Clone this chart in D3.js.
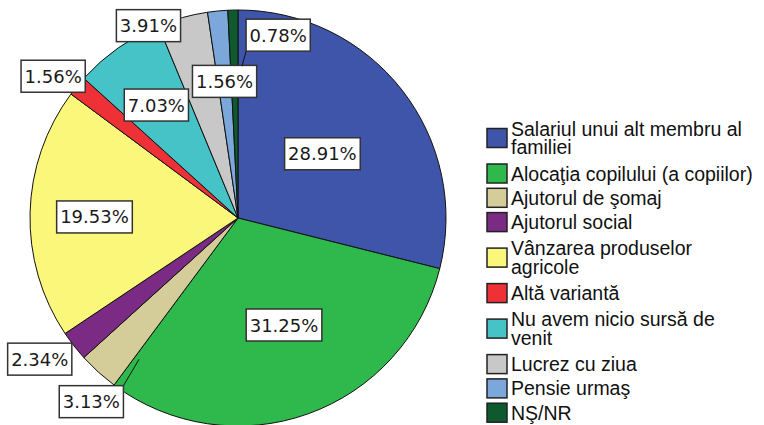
<!DOCTYPE html>
<html>
<head>
<meta charset="utf-8">
<script src="https://cdn.jsdelivr.net/npm/d3@7"></script>
<style>
  body { margin: 0; background: #fff; }
  svg { display: block; }
</style>
</head>
<body>
<svg id="chart" width="764" height="425"></svg>
<script>
// Surse de venit - pie chart

var categories = [
  "Salariul unui alt membru al familiei",
  "Alocaţia copilului (a copiilor)",
  "Ajutorul de şomaj",
  "Ajutorul social",
  "Vânzarea produselor agricole",
  "Altă variantă",
  "Nu avem nicio sursă de venit",
  "Lucrez cu ziua",
  "Pensie urmaş",
  "NŞ/NR"
];

// legend text broken the way the original wraps it
var legendLines = [
  ["Salariul unui alt membru al", "familiei"],
  ["Alocaţia copilului (a copiilor)"],
  ["Ajutorul de şomaj"],
  ["Ajutorul social"],
  ["Vânzarea produselor", "agricole"],
  ["Altă variantă"],
  ["Nu avem nicio sursă de", "venit"],
  ["Lucrez cu ziua"],
  ["Pensie urmaş"],
  ["NŞ/NR"]
];

var percents = [28.91, 31.25, 3.13, 2.34, 19.53, 1.56, 7.03, 3.91, 1.56, 0.78];

var colors = ["#3f55a9", "#2fb84b", "#d5cd99", "#7b2b84", "#fbf77b",
              "#ee3136", "#46c3c6", "#c8c8c8", "#7ba7da", "#0e5a2e"];

// label placement: shift from slice mid angle (deg) and distance (x radius)
var labelShift  = [0.7, -3.6, -3.6, 2.5, -1.0, -1.9, -0.7, -9.5, 0, 13.8];
var labelRadius = [0.51, 0.56, 1.13, 1.17, 0.69, 1.12, 0.67, 1.02, 0.66, 0.90];
// leader line ends [angle deg, radius factor], only some labels have them
var leaders = [null, null, [215, 0.83], null, null, null, null, null, null, [1.5, 0.73]];

var svg = d3.select("#chart");
var cx = 238, cy = 218, r = 208;

var pie = d3.pie().sort(null).value(function(d) { return d; });
var arc = d3.arc().innerRadius(0).outerRadius(r);
var arcs = pie(percents);

function polar(a, rad) {
  return [cx + rad * Math.sin(a), cy - rad * Math.cos(a)];
}

var g = svg.append("g").attr("transform", "translate(" + cx + "," + cy + ")");

g.selectAll("path.slice")
  .data(arcs)
  .enter().append("path")
  .attr("class", "slice")
  .attr("d", arc)
  .attr("fill", function(d, i) { return colors[i]; })
  .attr("stroke", "#111")
  .attr("stroke-width", 1);

// labels
var labels = svg.append("g")
  .style("font-family", "'DejaVu Sans', sans-serif")
  .style("font-size", "18px");

arcs.forEach(function(d, i) {
  var mid = (d.startAngle + d.endAngle) / 2 + labelShift[i] * Math.PI / 180;
  var p = polar(mid, r * labelRadius[i]);
  var txt = percents[i].toFixed(2) + "%";

  var lg = labels.append("g");
  var t = lg.append("text")
    .attr("x", p[0]).attr("y", p[1])
    .attr("text-anchor", "middle")
    .attr("dominant-baseline", "central")
    .attr("fill", "#1a1a1a")
    .text(txt);
  var bb = t.node().getBBox();
  var w = bb.width + 7, h = 32;
  var x0 = p[0] - w / 2, y0 = p[1] - h / 2;

  if (leaders[i]) {
    var e = polar(leaders[i][0] * Math.PI / 180, r * leaders[i][1]);
    var sx = Math.abs(e[0] - x0) < Math.abs(e[0] - (x0 + w)) ? x0 : x0 + w;
    var sy = Math.abs(e[1] - y0) < Math.abs(e[1] - (y0 + h)) ? y0 : y0 + h;
    lg.insert("line", "text")
      .attr("x1", sx).attr("y1", sy)
      .attr("x2", e[0]).attr("y2", e[1])
      .attr("stroke", "#111").attr("stroke-width", 1);
  }

  lg.insert("rect", "text")
    .attr("x", x0).attr("y", y0)
    .attr("width", w).attr("height", h)
    .attr("fill", "#fff")
    .attr("stroke", "#333")
    .attr("stroke-width", 1.5);
});

// legend
var legend = svg.append("g")
  .style("font-family", "'Liberation Sans', Arial, sans-serif")
  .style("font-size", "19.5px");

var lineH = 18.5, singleH = 24.3, extraH = 22.4;
var y = 138 - singleH / 2 - extraH / 2;
legendLines.forEach(function(lines, i) {
  var hgt = singleH + (lines.length - 1) * extraH;
  var yc = y + hgt / 2;
  legend.append("rect")
    .attr("x", 487).attr("y", yc - 9.5)
    .attr("width", 20).attr("height", 19)
    .attr("fill", colors[i])
    .attr("stroke", "#222")
    .attr("stroke-width", 1.5);
  var t = legend.append("text").attr("fill", "#111");
  var first = yc + 7 - (lines.length - 1) * lineH / 2;
  lines.forEach(function(s, k) {
    t.append("tspan").attr("x", 511).attr("y", first + k * lineH).text(s);
  });
  y += hgt;
});
</script>
</body>
</html>
